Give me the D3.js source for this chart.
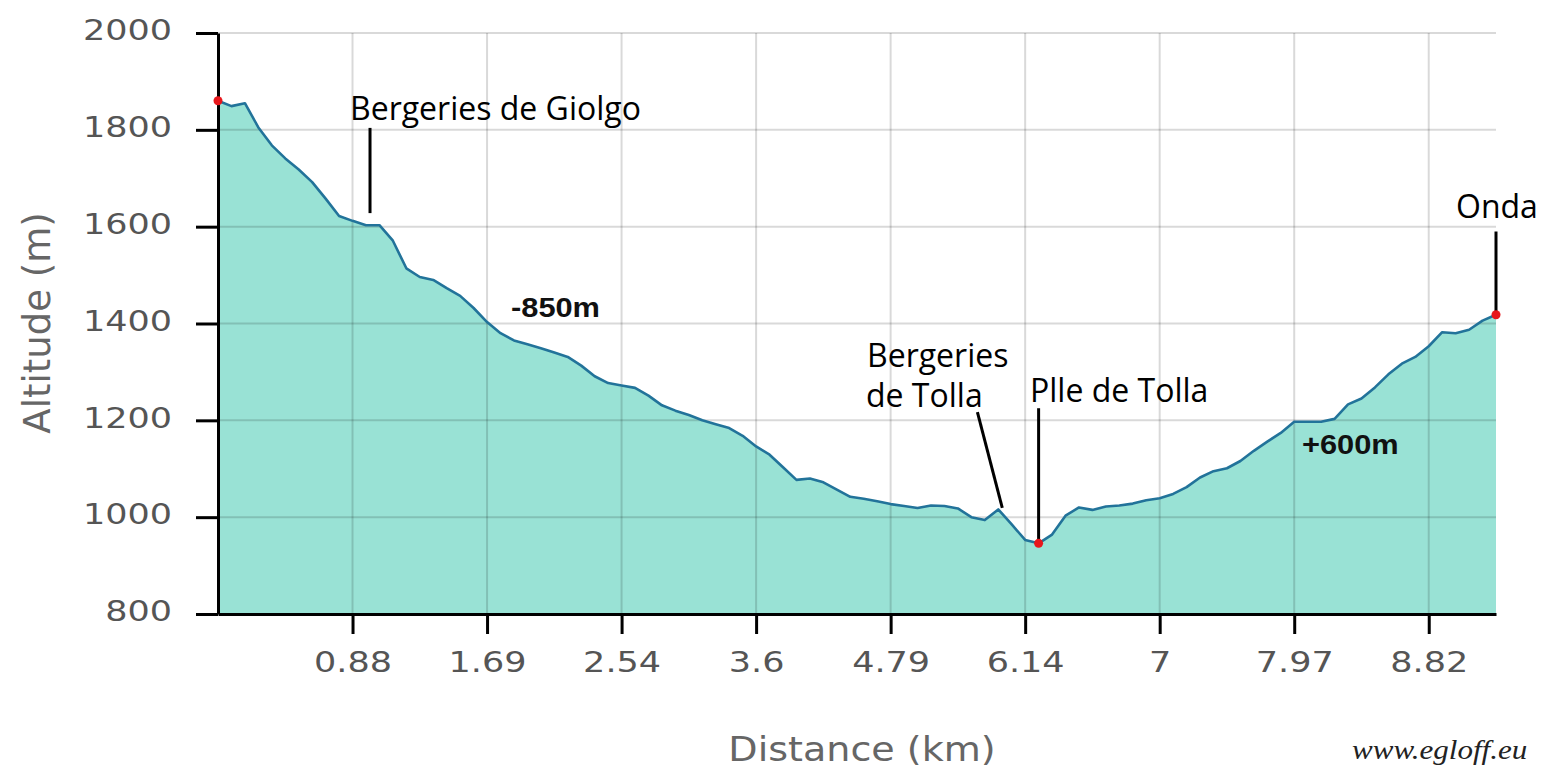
<!DOCTYPE html>
<html>
<head>
<meta charset="utf-8">
<script src="https://cdn.jsdelivr.net/npm/d3@7"></script>
<style>
  body { margin: 0; background: #fff; }
</style>
</head>
<body>
<div id="chart"></div>
<script>

// Profile samples (altitude in m), one every step along the track
var altitude = [
  1860, 1849, 1855, 1805, 1768, 1741, 1718, 1692, 1658, 1622,
  1612, 1603, 1603, 1571, 1514, 1496, 1490, 1473, 1457, 1432,
  1403, 1380, 1365, 1357, 1349, 1340, 1331, 1313, 1291, 1277,
  1272, 1267, 1251, 1231, 1220, 1211, 1200, 1192, 1184, 1168,
  1146, 1129, 1103, 1077, 1080, 1072, 1057, 1042, 1038, 1033,
  1027, 1023, 1019, 1024, 1023, 1018, 1000, 994, 1016, 985,
  953, 946, 964, 1003, 1020, 1015, 1022, 1024, 1028, 1035,
  1039, 1048, 1062, 1082, 1095, 1101, 1116, 1137, 1156, 1174,
  1197, 1197, 1197, 1203, 1233, 1245, 1268, 1295, 1317, 1331,
  1353, 1382, 1380, 1387, 1406, 1418
];

// x axis: every 10th sample carries its distance label
var tickIndex = [10, 20, 30, 40, 50, 60, 70, 80, 90];
var distLabels = ["0.88", "1.69", "2.54", "3.6", "4.79", "6.14", "7", "7.97", "8.82"];

var altTicks = [800, 1000, 1200, 1400, 1600, 1800, 2000];

// samples marked with a red dot
var markedIndex = [0, 61, 95];

var W = 1542, H = 768;

var svg = d3.select("#chart")
  .append("svg")
  .attr("width", W)
  .attr("height", H);

var x = d3.scaleLinear().domain([0, altitude.length - 1]).range([218, 1496]);
var y = d3.scaleLinear().domain([800, 2000]).range([614, 33]);

// filled profile
var area = d3.area()
  .x(function (d, i) { return x(i); })
  .y0(y(800))
  .y1(function (d) { return y(d); });

svg.append("path")
  .datum(altitude)
  .attr("d", area)
  .attr("fill", "#99e2d5");

// grid on top of the fill, see-through
var grid = svg.append("g")
  .attr("stroke", "rgba(0,0,0,0.15)")
  .attr("stroke-width", 2);

grid.selectAll(".hg")
  .data(altTicks.slice(1))
  .enter().append("line")
  .attr("x1", x(0)).attr("x2", x(altitude.length - 1))
  .attr("y1", function (d) { return y(d); })
  .attr("y2", function (d) { return y(d); });

grid.selectAll(".vg")
  .data(tickIndex)
  .enter().append("line")
  .attr("y1", y(800)).attr("y2", y(2000))
  .attr("x1", function (d) { return x(d); })
  .attr("x2", function (d) { return x(d); });

// profile line
var line = d3.line()
  .x(function (d, i) { return x(i); })
  .y(function (d) { return y(d); });

svg.append("path")
  .datum(altitude)
  .attr("d", line)
  .attr("fill", "none")
  .attr("stroke", "#22739a")
  .attr("stroke-width", 2.6)
  .attr("stroke-linejoin", "round");

// axes
var yAxis = d3.axisLeft(y).tickValues(altTicks)
  .tickFormat(d3.format("d"))
  .tickSize(22).tickSizeOuter(0);
var xAxis = d3.axisBottom(x).tickValues(tickIndex)
  .tickFormat(function (d, i) { return distLabels[i]; })
  .tickSize(20).tickSizeOuter(0);

var gy = svg.append("g")
  .attr("transform", "translate(" + x(0) + ",0)")
  .call(yAxis);

var gx = svg.append("g")
  .attr("transform", "translate(0," + y(800) + ")")
  .call(xAxis);

[gx, gy].forEach(function (g) {
  g.select(".domain").attr("stroke", "#000").attr("stroke-width", 3);
  g.selectAll(".tick line").attr("stroke", "#000").attr("stroke-width", 3);
  g.selectAll(".tick text")
    .attr("fill", "#555")
    .style("font-family", "DejaVu Sans, Verdana, sans-serif")
    .style("font-size", "28px");
});

gy.selectAll(".tick text")
  .attr("x", 0)
  .attr("dy", "0.24em")
  .attr("text-anchor", "end")
  .attr("transform", "translate(-46,0) scale(1.25,1)");

gx.selectAll(".tick text")
  .attr("y", 58)
  .attr("dy", 0)
  .attr("transform", "scale(1.25,1)");

// axis titles
svg.append("text")
  .attr("transform", "translate(862,761) scale(1.12,1)")
  .attr("text-anchor", "middle")
  .attr("fill", "#666")
  .style("font-family", "DejaVu Sans, Verdana, sans-serif")
  .style("font-size", "34px")
  .text("Distance (km)");

svg.append("text")
  .attr("transform", "translate(50,323) rotate(-90)")
  .attr("text-anchor", "middle")
  .attr("fill", "#666")
  .style("font-family", "DejaVu Sans, Verdana, sans-serif")
  .style("font-size", "37px")
  .text("Altitude (m)");

// pointers from labels to the track
var pointers = [
  { i0: 11.3, a0: 1804, i1: 11.3, a1: 1628 },
  { i0: 56.45, a0: 1217, i1: 58.3, a1: 1019 },
  { i0: 61, a0: 1225, i1: 61, a1: 953 },
  { i0: 95, a0: 1590, i1: 95, a1: 1422 }
];

svg.selectAll(".ptr")
  .data(pointers)
  .enter().append("line")
  .attr("x1", function (d) { return x(d.i0); })
  .attr("y1", function (d) { return y(d.a0); })
  .attr("x2", function (d) { return x(d.i1); })
  .attr("y2", function (d) { return y(d.a1); })
  .attr("stroke", "#000")
  .attr("stroke-width", 3);

// red dots
svg.selectAll(".dot")
  .data(markedIndex)
  .enter().append("circle")
  .attr("cx", function (d) { return x(d); })
  .attr("cy", function (d) { return y(altitude[d]); })
  .attr("r", 4.5)
  .attr("fill", "#e8161b");

// place names
var names = [
  { t: "Bergeries de Giolgo", x: 350, y: 120 },
  { t: "Bergeries", x: 867, y: 367 },
  { t: "de Tolla", x: 866, y: 407 },
  { t: "Plle de Tolla", x: 1030, y: 402 },
  { t: "Onda", x: 1456, y: 218 }
];

svg.selectAll(".name")
  .data(names)
  .enter().append("text")
  .attr("x", function (d) { return d.x; })
  .attr("y", function (d) { return d.y; })
  .attr("fill", "#000")
  .style("font-family", "Open Sans, Noto Sans, sans-serif")
  .style("font-size", "32px")
  .text(function (d) { return d.t; });

// climb totals
var totals = [
  { t: "-850m", x: 511, y: 317 },
  { t: "+600m", x: 1302, y: 454 }
];

svg.selectAll(".total")
  .data(totals)
  .enter().append("text")
  .attr("transform", function (d) { return "translate(" + d.x + "," + d.y + ") scale(1.1,1)"; })
  .attr("fill", "#111")
  .style("font-family", "Liberation Sans, Arial, sans-serif")
  .style("font-weight", "bold")
  .style("font-size", "28px")
  .text(function (d) { return d.t; });

// watermark
svg.append("text")
  .attr("transform", "translate(1352,759) scale(1.15,1)")
  .attr("fill", "#222")
  .style("font-family", "Liberation Serif, Times New Roman, serif")
  .style("font-style", "italic")
  .style("font-size", "27px")
  .text("www.egloff.eu");

</script>
</body>
</html>
